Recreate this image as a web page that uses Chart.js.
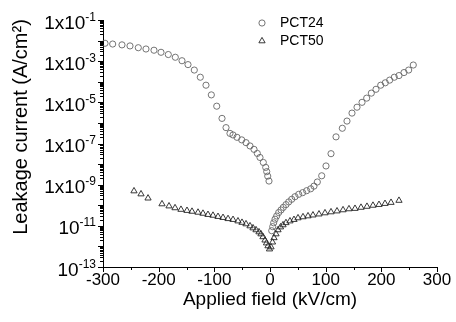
<!DOCTYPE html>
<html>
<head>
<meta charset="utf-8">
<script src="https://cdn.jsdelivr.net/npm/chart.js@4.4.1/dist/chart.umd.min.js"></script>
<style>
  html, body { margin: 0; padding: 0; background: #fff; }
</style>
</head>
<body>
<canvas id="chart" width="456" height="322"></canvas>
<script>
const FONT = "Arial, 'Liberation Sans', sans-serif";

// PCT24 (circles): field in kV/cm, leakage current in A/cm2
const pct24Field = [
  -296.4, -282.6, -265.9, -251.5, -236.6, -222.8, -208.4, -195.8, -182.7, -170.1,
  -158.1, -147.3, -136.0, -125.2, -115.0, -105.4, -95.7, -86.2, -79.0, -71.9,
  -66.5, -59.3, -50.8, -43.1, -35.9, -28.7, -22.8, -18.0, -12.0, -7.7,
  -5.9, -4.1, -1.8,
  3.1, 4.9, 6.6, 9.0, 12.0, 15.6, 19.8, 23.9, 28.7, 33.6,
  39.0, 44.9, 51.6, 58.7, 65.9, 73.1, 79.0, 85.0, 92.9, 100.6,
  109.6, 118.6, 129.9, 138.3, 147.3, 156.3, 165.3, 173.7, 182.0, 190.4,
  198.9, 207.1, 215.0, 223.3, 231.7, 240.7, 249.1, 257.4
];
const pct24Current = [
  7.4e-3, 6.8e-3, 6.2e-3, 5.5e-3, 4.5e-3, 3.9e-3, 3.4e-3, 2.7e-3, 2.1e-3, 1.55e-3,
  1.05e-3, 6.8e-4, 3.7e-4, 1.66e-4, 6.8e-5, 2.3e-5, 6.5e-6, 1.66e-6, 5.9e-7, 3.1e-7,
  2.6e-7, 2.0e-7, 1.5e-7, 1.1e-7, 7.6e-8, 5.2e-8, 3.3e-8, 2.1e-8, 1.2e-8, 6.9e-9,
  4.3e-9, 2.6e-9, 1.5e-9,
  5.8e-12, 9.1e-12, 1.4e-11, 2.1e-11, 3.0e-11, 4.4e-11, 5.9e-11, 7.9e-11, 1.07e-10, 1.45e-10,
  1.95e-10, 2.6e-10, 3.4e-10, 4.1e-10, 5.1e-10, 6.3e-10, 8.5e-10, 1.35e-9, 2.7e-9, 8.1e-9,
  3.2e-8, 2.1e-7, 5.5e-7, 1.23e-6, 3.0e-6, 5.8e-6, 1.0e-5, 1.6e-5, 2.8e-5, 4.3e-5,
  6.8e-5, 8.9e-5, 1.2e-4, 1.66e-4, 2.0e-4, 2.8e-4, 3.7e-4, 6.5e-4
];

// PCT50 (triangles)
const pct50Field = [
  -244.3, -231.7, -219.1, -194.0, -181.4, -170.6, -159.9, -149.1, -140.1, -129.3,
  -120.4, -111.4, -102.4, -93.4, -84.4, -75.4, -66.4, -57.5, -50.3, -43.1,
  -35.9, -30.5, -25.1, -19.8, -16.2, -12.6, -9.0, -6.3, -3.6, -0.9,
  1.8, 4.5, 7.2, 10.8, 14.4, 18.9, 23.4, 28.7, 35.9, 43.1,
  50.3, 59.3, 68.3, 77.2, 88.0, 98.8, 109.6, 120.4, 131.2, 141.9,
  152.7, 163.5, 174.2, 185.0, 195.8, 206.6, 217.4, 231.7
];
const pct50Current = [
  4.9e-10, 3.5e-10, 2.2e-10, 1.15e-10, 9.1e-11, 7.4e-11, 6.2e-11, 5.5e-11, 5.0e-11, 4.5e-11,
  4.0e-11, 3.5e-11, 3.2e-11, 2.8e-11, 2.5e-11, 2.2e-11, 2.0e-11, 1.7e-11, 1.45e-11, 1.23e-11,
  9.8e-12, 7.8e-12, 6.3e-12, 5.0e-12, 4.0e-12, 2.9e-12, 2.0e-12, 1.45e-12, 1.05e-12, 7.4e-13,
  9.3e-13, 1.6e-12, 2.6e-12, 4.0e-12, 6.3e-12, 8.7e-12, 1.1e-11, 1.4e-11, 1.7e-11, 2.0e-11,
  2.4e-11, 2.7e-11, 3.0e-11, 3.3e-11, 3.7e-11, 4.2e-11, 4.7e-11, 5.2e-11, 5.9e-11, 6.6e-11,
  6.9e-11, 7.8e-11, 8.7e-11, 9.8e-11, 1.07e-10, 1.2e-10, 1.35e-10, 1.7e-10
];

// y tick labels: base text + exponent
const yTickExps = [-1, -3, -5, -7, -9, -11, -13];
const yTickBases = ["1x10", "1x10", "1x10", "1x10", "1x10", "10", "10"];
const xMinorStep = 50;

const toPoints = (xs, ys) => xs.map((x, i) => ({ x, y: ys[i] }));

const seriesStyle = [
  { pointStyle: "circle", radius: 3.1, borderColor: "#666", borderWidth: 0.9 },
  { pointStyle: "triangle", radius: 3.6, borderColor: "#222", borderWidth: 0.9 },
];

const axisDecor = {
  id: "axisDecor",
  afterDraw(chart) {
    const { ctx, chartArea: a, scales: { x, y } } = chart;
    ctx.save();
    ctx.strokeStyle = "#000";
    ctx.lineWidth = 1;
    ctx.beginPath();
    for (let v = x.min; v <= x.max; v += xMinorStep) {
      const px = Math.round(x.getPixelForValue(v)) + 0.5;
      const len = v % 100 === 0 ? 5 : 3;
      ctx.moveTo(px, a.bottom);
      ctx.lineTo(px, a.bottom + len);
    }
    for (let e = -13; e <= -1; e++) {
      for (let k = 1; k <= 9; k++) {
        if (e === -1 && k > 1) break;
        const py = Math.round(y.getPixelForValue(k * Math.pow(10, e))) + 0.5;
        ctx.moveTo(a.left, py);
        ctx.lineTo(a.left - (k === 1 ? 5 : 3), py);
      }
    }
    ctx.stroke();

    // y tick labels with raised exponent
    ctx.fillStyle = "#000";
    ctx.textAlign = "right";
    ctx.textBaseline = "alphabetic";
    const right = a.left - 7;
    yTickExps.forEach((e, i) => {
      const py = y.getPixelForValue(Math.pow(10, e));
      ctx.font = `12px ${FONT}`;
      const expText = String(e);
      const w = ctx.measureText(expText).width;
      ctx.fillText(expText, right, py + 0.5);
      ctx.font = `19px ${FONT}`;
      ctx.fillText(yTickBases[i], right - w, py + 8.5);
    });

    // y axis title
    ctx.save();
    ctx.translate(21, 127);
    ctx.rotate(-Math.PI / 2);
    ctx.textAlign = "center";
    ctx.textBaseline = "middle";
    ctx.font = `20px ${FONT}`;
    ctx.fillText("Leakage current (A/cm\u00B2)", 0, 0);
    ctx.restore();

    // legend
    ctx.font = `14px ${FONT}`;
    ctx.textAlign = "left";
    ctx.textBaseline = "middle";
    chart.data.datasets.forEach((ds, i) => {
      const s = seriesStyle[i];
      const ly = 23 + i * 18;
      ctx.strokeStyle = s.borderColor;
      ctx.fillStyle = "rgba(0,0,0,0)";
      ctx.lineWidth = s.borderWidth;
      Chart.helpers.drawPoint(ctx, {
        pointStyle: s.pointStyle, radius: s.radius, borderWidth: s.borderWidth, rotation: 0,
      }, 262, ly);
      ctx.fillStyle = "#000";
      ctx.fillText(ds.label, 280, ly);
    });
    ctx.restore();
  },
};

const makeDataset = (label, xs, ys, style) => ({
  label,
  data: toPoints(xs, ys),
  showLine: false,
  clip: false,
  pointStyle: style.pointStyle,
  pointRadius: style.radius,
  pointHoverRadius: style.radius,
  pointBorderColor: style.borderColor,
  pointBackgroundColor: "rgba(0,0,0,0)",
  pointBorderWidth: style.borderWidth,
});

new Chart(document.getElementById("chart"), {
  type: "scatter",
  data: {
    datasets: [
      makeDataset("PCT24", pct24Field, pct24Current, seriesStyle[0]),
      makeDataset("PCT50", pct50Field, pct50Current, seriesStyle[1]),
    ],
  },
  options: {
    animation: false,
    responsive: false,
    devicePixelRatio: 1,
    layout: { padding: { top: 20, right: 19, left: 0, bottom: 0 } },
    plugins: { legend: { display: false }, tooltip: { enabled: false } },
    scales: {
      x: {
        type: "linear",
        min: -300,
        max: 300,
        grid: { display: false, drawTicks: false },
        border: { display: true, color: "#000", width: 1 },
        ticks: {
          stepSize: 100,
          autoSkip: false,
          maxRotation: 0,
          padding: 3,
          color: "#000",
          font: { family: FONT, size: 17 },
        },
        title: {
          display: true,
          text: "Applied field (kV/cm)",
          color: "#000",
          font: { family: FONT, size: 19 },
          padding: { top: 0, bottom: 11 },
        },
        afterFit(scale) { scale.height = 55; },
      },
      y: {
        type: "logarithmic",
        min: 1e-13,
        max: 1e-1,
        grid: { display: false, drawTicks: false },
        border: { display: true, color: "#000", width: 1 },
        ticks: { display: false },
        afterFit(scale) { scale.width = 103; },
      },
    },
  },
  plugins: [axisDecor],
});
</script>
</body>
</html>
